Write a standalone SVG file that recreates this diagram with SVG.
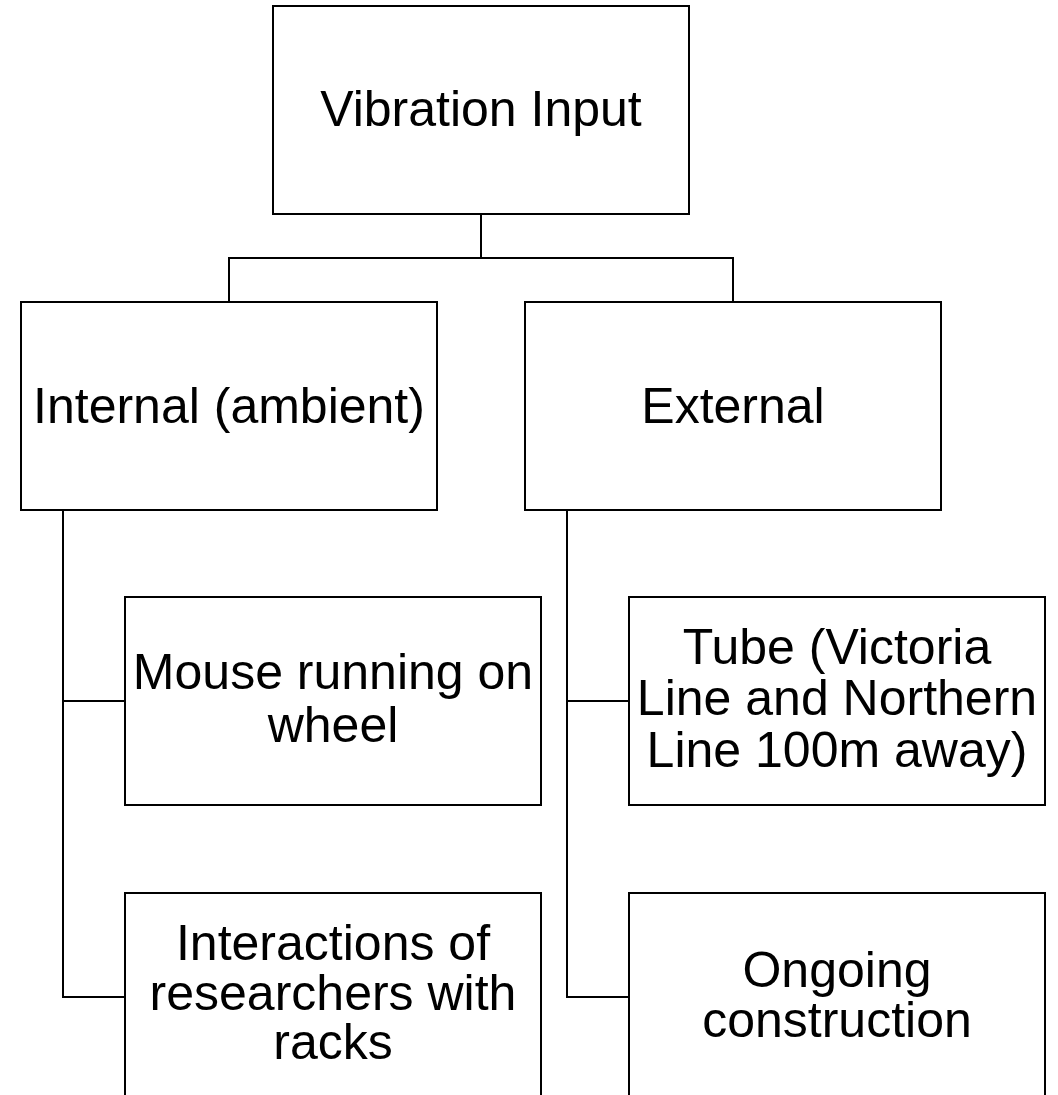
<svg xmlns="http://www.w3.org/2000/svg" width="1058" height="1095" viewBox="0 0 1058 1095">
<style>
.box{fill:#fff;stroke:#000;stroke-width:2}
.lbl{font-family:"Liberation Sans",Arial,sans-serif;font-size:50px;fill:#000;text-anchor:middle}
.conn{fill:none;stroke:#000;stroke-width:2}
</style>
<rect width="1058" height="1095" fill="#fff"/>
<g id="connectors">
<path class="conn" d="M481,214V258M229,302V258H733V302"/>
<path class="conn" d="M63,510V997H125M63,701H125"/>
<path class="conn" d="M567,510V997H629M567,701H629"/>
</g>
<g id="vibration-input">
<rect class="box" x="273" y="6" width="416" height="208"/>
<text class="lbl" x="481" y="126">Vibration Input</text>
</g>
<g id="internal">
<rect class="box" x="21" y="302" width="416" height="208"/>
<text class="lbl" x="229" y="423">Internal (ambient)</text>
</g>
<g id="external">
<rect class="box" x="525" y="302" width="416" height="208"/>
<text class="lbl" x="733" y="423">External</text>
</g>
<g id="mouse">
<rect class="box" x="125" y="597" width="416" height="208"/>
<text class="lbl" x="333" y="689">Mouse running on</text>
<text class="lbl" x="333" y="742">wheel</text>
</g>
<g id="tube">
<rect class="box" x="629" y="597" width="416" height="208"/>
<text class="lbl" x="837" y="664">Tube (Victoria</text>
<text class="lbl" x="837" y="715">Line and Northern</text>
<text class="lbl" x="837" y="767">Line 100m away)</text>
</g>
<g id="interactions">
<rect class="box" x="125" y="893" width="416" height="208"/>
<text class="lbl" x="333" y="960">Interactions of</text>
<text class="lbl" x="333" y="1010">researchers with</text>
<text class="lbl" x="333" y="1059">racks</text>
</g>
<g id="construction">
<rect class="box" x="629" y="893" width="416" height="208"/>
<text class="lbl" x="837" y="987">Ongoing</text>
<text class="lbl" x="837" y="1037">construction</text>
</g>
</svg>
